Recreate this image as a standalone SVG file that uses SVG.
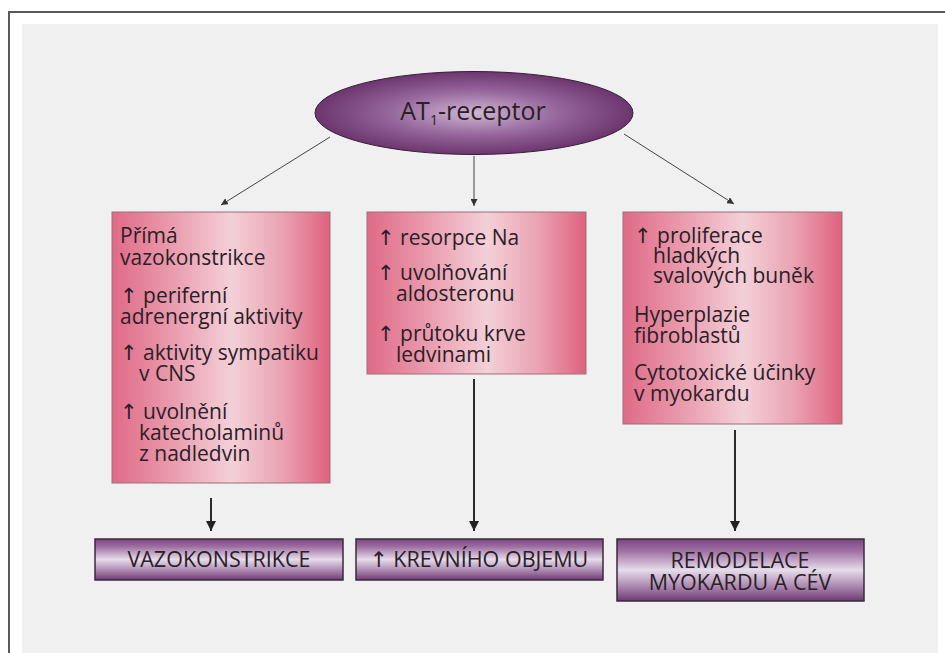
<svg xmlns="http://www.w3.org/2000/svg" width="945" height="653" viewBox="0 0 945 653">
<defs>
<linearGradient id="pink" x1="0" y1="0" x2="1" y2="0">
<stop offset="0" stop-color="#df6a86"/>
<stop offset="0.3" stop-color="#eba0b2"/>
<stop offset="0.55" stop-color="#f3d0d8"/>
<stop offset="0.78" stop-color="#eaa3b3"/>
<stop offset="1" stop-color="#de627f"/>
</linearGradient>
<linearGradient id="purple" x1="0" y1="0" x2="0" y2="1">
<stop offset="0" stop-color="#7b4580"/>
<stop offset="0.18" stop-color="#9c6ca0"/>
<stop offset="0.5" stop-color="#e6dcea"/>
<stop offset="0.8" stop-color="#a47ca8"/>
<stop offset="1" stop-color="#6e3a72"/>
</linearGradient>
<radialGradient id="ell" cx="0.5" cy="0.5" r="0.5">
<stop offset="0" stop-color="#cfb6d2"/>
<stop offset="0.55" stop-color="#94649a"/>
<stop offset="1" stop-color="#6b366d"/>
</radialGradient>
<marker id="ahBig" viewBox="0 0 10 10" refX="10" refY="5" markerWidth="10" markerHeight="10" markerUnits="userSpaceOnUse" orient="auto">
<path d="M0,0 L10,5 L0,10 z" fill="#222"/>
</marker>
<marker id="ahSmall" viewBox="0 0 10 10" refX="10" refY="5" markerWidth="7" markerHeight="7" markerUnits="userSpaceOnUse" orient="auto">
<path d="M0,0 L10,5 L0,10 z" fill="#333"/>
</marker>
</defs>
<style>
text { font-family: "Open Sans", "DejaVu Sans", sans-serif; fill: #2a2026; }
.t { font-size: 21px; }
.b { font-size: 21.5px; }
.pk { fill: url(#pink); stroke: #9a7078; stroke-width: 1; }
.pu { fill: url(#purple); stroke: #3a2a3c; stroke-width: 1.5; }
.thick { stroke: #2a2a2a; stroke-width: 2; fill: none; marker-end: url(#ahBig); }
.thin { stroke: #444; stroke-width: 1; fill: none; marker-end: url(#ahSmall); }
</style>
<rect x="0" y="0" width="945" height="653" fill="#ffffff"/>
<rect x="22" y="24" width="916" height="640" fill="#f0f0f0"/>
<path d="M9,660 L9,12 L950,12" fill="none" stroke="#5a5a5a" stroke-width="2"/>

<g id="connectors">
<line class="thin" x1="330" y1="137" x2="221" y2="205"/>
<line class="thin" x1="474" y1="156" x2="474" y2="206"/>
<line class="thin" x1="624" y1="134" x2="734" y2="204"/>
<line class="thick" x1="211" y1="498" x2="211" y2="531"/>
<line class="thick" x1="474" y1="379" x2="474" y2="531"/>
<line class="thick" x1="735" y1="430" x2="735" y2="531"/>
</g>

<g id="receptor">
<ellipse cx="474" cy="113" rx="159" ry="41.5" fill="url(#ell)" stroke="#3a1c3c" stroke-width="1"/>
<text x="473" y="120" text-anchor="middle" font-size="25">AT<tspan font-size="14" dy="5">1</tspan><tspan dy="-5">-receptor</tspan></text>
</g>

<g id="box-left">
<rect class="pk" x="112" y="212" width="218" height="271"/>
<text class="t" x="120" y="243">Přímá</text>
<text class="t" x="120" y="265">vazokonstrikce</text>
<text class="t" x="120" y="303">↑ periferní</text>
<text class="t" x="120" y="324">adrenergní aktivity</text>
<text class="t" x="120" y="360">↑ aktivity sympatiku</text>
<text class="t" x="139" y="381">v CNS</text>
<text class="t" x="120" y="419">↑ uvolnění</text>
<text class="t" x="139" y="440">katecholaminů</text>
<text class="t" x="139" y="461">z nadledvin</text>
</g>

<g id="box-middle">
<rect class="pk" x="367" y="212" width="219" height="162"/>
<text class="t" x="377" y="245">↑ resorpce Na</text>
<text class="t" x="377" y="280">↑ uvolňování</text>
<text class="t" x="396" y="301">aldosteronu</text>
<text class="t" x="377" y="341">↑ průtoku krve</text>
<text class="t" x="396" y="362">ledvinami</text>
</g>

<g id="box-right">
<rect class="pk" x="623" y="212" width="219" height="212"/>
<text class="t" x="634" y="243">↑ proliferace</text>
<text class="t" x="653" y="263">hladkých</text>
<text class="t" x="653" y="283">svalových buněk</text>
<text class="t" x="634" y="322">Hyperplazie</text>
<text class="t" x="634" y="343">fibroblastů</text>
<text class="t" x="634" y="380">Cytotoxické účinky</text>
<text class="t" x="634" y="401">v myokardu</text>
</g>

<g id="out-vazo">
<rect class="pu" x="95" y="539" width="248" height="41"/>
<text class="b" x="219" y="567" text-anchor="middle">VAZOKONSTRIKCE</text>
</g>

<g id="out-objem">
<rect class="pu" x="356" y="539" width="247" height="41"/>
<text class="b" x="479" y="567" text-anchor="middle">↑ KREVNÍHO OBJEMU</text>
</g>

<g id="out-remodelace">
<rect class="pu" x="617" y="539" width="247" height="62"/>
<text class="b" x="740" y="568" text-anchor="middle">REMODELACE</text>
<text class="b" x="740" y="590" text-anchor="middle">MYOKARDU A CÉV</text>
</g>
</svg>
